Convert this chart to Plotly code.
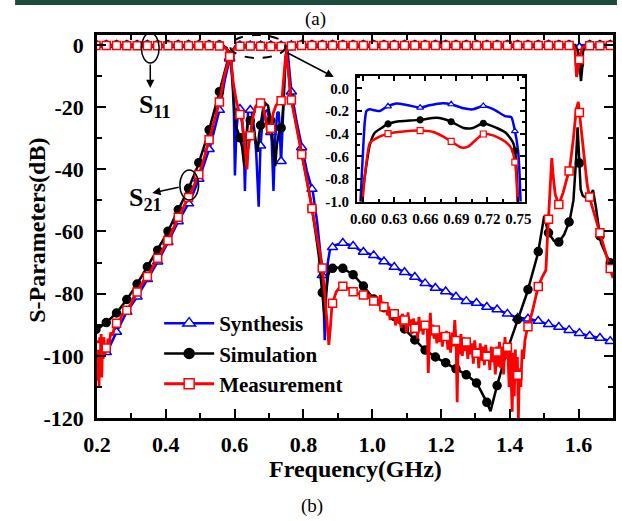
import numpy as np
import plotly.graph_objects as go

# ------------------------------------------------------------------ data
# Synthesis (blue) -------------------------------------------------------
SYN_S21_LO_F = [0.200, 0.229, 0.257, 0.286, 0.318, 0.346, 0.375, 0.404, 0.435, 0.472, 0.500, 0.530, 0.558, 0.572, 0.582, 0.588, 0.594]
SYN_S21_LO_V = [-99.5, -98.8, -92.3, -86.0, -80.8, -75.5, -70.0, -64.0, -57.0, -49.9, -42.0, -32.2, -20.0, -11.0, -6.0, -3.5, -1.8]
SYN_PB_F = [0.5974, 0.6000, 0.6016, 0.6032, 0.6064, 0.6110, 0.6160, 0.6230, 0.6320, 0.6420, 0.6550, 0.6640, 0.6770, 0.6850,
            0.6970, 0.7060, 0.7160, 0.7260, 0.7370, 0.7430, 0.7460, 0.7497, 0.7520]
SYN_PB_V = [-1.0, -0.53, -0.29, -0.20, -0.185, -0.194, -0.20, -0.161, -0.134, -0.146, -0.17, -0.149, -0.131, -0.14,
            -0.176, -0.185, -0.155, -0.185, -0.245, -0.254, -0.35, -0.56, -1.0]
SYN_S21_HI_F = [0.755, 0.760, 0.765, 0.780, 0.794, 0.810, 0.828, 0.840, 0.853, 0.858, 0.862, 0.866, 0.871, 0.877, 0.890,
                0.914, 0.943, 0.974, 1.003, 1.032, 1.063, 1.092, 1.123, 1.152, 1.184, 1.212, 1.244, 1.273, 1.304, 1.333,
                1.361, 1.393, 1.422, 1.450, 1.482, 1.510, 1.542, 1.571, 1.602, 1.631, 1.660, 1.690, 1.700]
SYN_S21_HI_V = [-3.0, -9.0, -15.0, -24.5, -32.5, -40.5, -47.6, -57.0, -70.8, -80.0, -95.0, -80.0, -70.0, -66.0, -64.5,
                -63.7, -64.6, -66.6, -67.6, -69.5, -71.4, -73.0, -74.6, -76.6, -78.2, -79.2, -81.0, -82.4, -83.0, -84.3,
                -85.0, -86.5, -87.8, -88.0, -88.8, -89.8, -90.7, -91.7, -92.7, -93.6, -94.2, -95.2, -95.6]
SYN_S11_F = [0.200, 0.550, 0.565, 0.575, 0.582, 0.588, 0.594, 0.598, 0.601, 0.605, 0.610, 0.616, 0.622, 0.627, 0.630,
             0.634, 0.639, 0.644, 0.650, 0.657, 0.663, 0.670, 0.675, 0.680, 0.688, 0.695, 0.702, 0.708, 0.713, 0.718,
             0.724, 0.728, 0.731, 0.735, 0.739, 0.744, 0.748, 0.752, 0.757, 0.765, 0.780, 1.585, 1.595, 1.600, 1.604,
             1.610, 1.620, 1.700]
SYN_S11_V = [0.0, 0.0, -0.2, -1.0, -2.5, -5.0, -12.0, -22.0, -42.0, -28.0, -22.0, -20.5, -24.0, -33.0, -47.0,
             -30.0, -22.0, -20.6, -22.0, -27.0, -35.0, -52.0, -33.0, -26.0, -21.5, -21.0, -24.5, -31.0, -47.0, -30.0,
             -22.0, -21.5, -26.0, -38.0, -26.0, -12.0, -4.0, -1.5, -0.5, -0.1, 0.0, 0.0, -0.3, -1.0, -0.6,
             -0.1, 0.0, 0.0]

# Simulation (black) -----------------------------------------------------
SIM_S21_LO_F = [0.200, 0.226, 0.257, 0.286, 0.315, 0.343, 0.375, 0.404, 0.432, 0.464, 0.493, 0.521, 0.550, 0.570, 0.580, 0.588, 0.594]
SIM_S21_LO_V = [-91.5, -89.4, -86.2, -82.0, -77.2, -72.0, -66.3, -60.5, -54.0, -46.7, -38.9, -29.3, -17.5, -9.0, -5.0, -3.0, -1.8]
SIM_PB_F = [0.5984, 0.6026, 0.6064, 0.6110, 0.6177, 0.6240, 0.6350, 0.6450, 0.6550, 0.6710, 0.6840, 0.6970, 0.7060,
            0.7160, 0.7290, 0.7380, 0.7450, 0.7470, 0.7493]
SIM_PB_V = [-1.0, -0.71, -0.5, -0.394, -0.35, -0.314, -0.29, -0.284, -0.278, -0.26, -0.29, -0.35, -0.35,
            -0.308, -0.35, -0.394, -0.484, -0.574, -1.0]
SIM_S21_HI_F = [0.752, 0.757, 0.763, 0.780, 0.794, 0.810, 0.822, 0.835, 0.845, 0.851, 0.857, 0.862, 0.866, 0.872, 0.877,
                0.890, 0.914, 0.946, 0.977, 1.006, 1.032, 1.063, 1.095, 1.123, 1.152, 1.184, 1.215, 1.244, 1.275, 1.304,
                1.333, 1.344, 1.362, 1.390, 1.420, 1.450, 1.482, 1.494, 1.500, 1.505, 1.510, 1.516, 1.528, 1.542, 1.558,
                1.574, 1.585, 1.592, 1.597, 1.601, 1.606, 1.612, 1.620, 1.631, 1.642, 1.650, 1.665, 1.680, 1.694, 1.700]
SIM_S21_HI_V = [-3.0, -9.0, -16.0, -26.0, -34.5, -43.0, -50.5, -60.0, -68.0, -75.6, -82.0, -88.0, -80.0, -74.0, -72.4,
                -71.5, -71.8, -74.0, -77.9, -82.0, -84.3, -87.2, -91.5, -94.8, -98.0, -100.4, -102.3, -104.2, -106.2, -108.8,
                -114.9, -117.8, -110.0, -99.0, -89.2, -79.8, -67.0, -58.0, -55.0, -57.0, -60.0, -61.0, -63.0, -63.5, -61.0,
                -56.5, -50.0, -38.0, -26.5, -35.0, -46.5, -48.5, -49.0, -49.2, -46.7, -52.0, -63.7, -67.5, -70.5, -72.0]
SIM_S11_F = [0.200, 0.555, 0.567, 0.577, 0.584, 0.590, 0.596, 0.603, 0.610, 0.616, 0.622, 0.628, 0.633, 0.638, 0.642,
             0.648, 0.655, 0.662, 0.667, 0.671, 0.676, 0.683, 0.690, 0.697, 0.705, 0.712, 0.718, 0.723, 0.730, 0.737,
             0.741, 0.745, 0.749, 0.754, 0.760, 0.770, 0.780, 1.590, 1.598, 1.603, 1.607, 1.610, 1.613, 1.620, 1.630, 1.700]
SIM_S11_V = [0.0, 0.0, -0.2, -1.0, -2.5, -5.0, -15.0, -26.0, -28.0, -30.0, -33.0, -39.0, -32.0, -25.5, -24.0,
             -24.5, -27.0, -31.0, -34.4, -29.0, -25.4, -20.5, -18.8, -19.5, -24.0, -31.0, -39.0, -32.0, -27.5, -26.4,
             -20.0, -10.0, -4.0, -1.5, -0.5, -0.1, 0.0, 0.0, -2.0, -7.0, -11.6, -8.0, -2.0, -0.3, 0.0, 0.0]

# Measurement (red) ------------------------------------------------------
MEA_S21_LO_F = [0.200, 0.202, 0.204, 0.206, 0.208, 0.210, 0.212, 0.214, 0.216, 0.218, 0.220, 0.223, 0.226, 0.229, 0.232,
                0.236, 0.240, 0.245, 0.250, 0.257, 0.265, 0.272, 0.283, 0.300, 0.315, 0.330, 0.346, 0.360, 0.375, 0.390,
                0.406, 0.420, 0.435, 0.450, 0.467, 0.480, 0.498, 0.510, 0.524, 0.540, 0.556, 0.570, 0.580, 0.587, 0.594]
MEA_S21_LO_V = [-97.0, -108.0, -95.0, -110.0, -94.0, -104.0, -93.0, -107.0, -95.0, -101.0, -94.0, -99.5, -97.0, -98.5, -94.5,
                -96.0, -92.5, -93.5, -91.0, -89.5, -89.0, -87.0, -86.0, -83.0, -79.8, -77.0, -74.6, -72.0, -68.9, -66.0,
                -63.0, -59.5, -55.7, -52.5, -48.9, -45.5, -41.2, -37.0, -31.2, -25.0, -18.3, -10.0, -5.5, -3.2, -1.8]
MEA_PB_F = [0.5994, 0.6032, 0.6064, 0.6129, 0.6240, 0.6386, 0.6550, 0.6676, 0.6770, 0.6850, 0.6950, 0.7014, 0.7090,
            0.7160, 0.7255, 0.7370, 0.7430, 0.7468, 0.7490]
MEA_PB_V = [-1.0, -0.65, -0.484, -0.44, -0.40, -0.38, -0.373, -0.385, -0.424, -0.469, -0.523, -0.514, -0.454,
            -0.403, -0.415, -0.469, -0.529, -0.663, -1.0]
MEA_S21_HI_F = [0.752, 0.757, 0.762, 0.780, 0.794, 0.810, 0.822, 0.835, 0.845, 0.854, 0.862, 0.868, 0.874, 0.879, 0.883,
                0.895, 0.905, 0.917, 0.930, 0.946, 0.960, 0.974,
                0.984, 0.988, 0.992, 0.996, 1.000, 1.004, 1.008, 1.012, 1.016, 1.020, 1.024, 1.028, 1.032, 1.036, 1.040,
                1.044, 1.048, 1.052, 1.056, 1.060, 1.064, 1.068, 1.072, 1.076, 1.080, 1.084, 1.088, 1.092, 1.096, 1.100,
                1.104, 1.108, 1.112, 1.116, 1.120, 1.124, 1.128, 1.132, 1.136, 1.140, 1.144, 1.148, 1.152, 1.156, 1.160,
                1.163, 1.166, 1.169, 1.172, 1.176, 1.180, 1.184, 1.188, 1.192, 1.196, 1.200, 1.204, 1.208, 1.212, 1.216,
                1.220, 1.224, 1.228, 1.232, 1.236, 1.240, 1.244, 1.247, 1.250, 1.254, 1.258, 1.262, 1.266, 1.270, 1.274,
                1.278, 1.282, 1.286, 1.290, 1.294, 1.298, 1.302, 1.306, 1.310, 1.314, 1.318, 1.322, 1.326, 1.330, 1.334,
                1.338, 1.342, 1.346, 1.350, 1.354, 1.358, 1.362, 1.366, 1.370, 1.374, 1.378, 1.382, 1.386, 1.390, 1.394,
                1.398, 1.401, 1.404, 1.407, 1.410, 1.413, 1.416, 1.419, 1.422, 1.425, 1.428, 1.432, 1.436, 1.440, 1.444,
                1.450, 1.465, 1.482, 1.495, 1.505, 1.509, 1.513, 1.518, 1.522, 1.526, 1.532, 1.542, 1.555, 1.566, 1.574,
                1.585, 1.593, 1.599, 1.605, 1.615, 1.625, 1.634, 1.650, 1.665, 1.680, 1.694, 1.700]
MEA_S21_HI_V = [-3.5, -9.0, -16.0, -26.0, -34.7, -43.5, -50.8, -59.0, -65.5, -70.8, -80.0, -90.0, -96.5, -90.0, -83.7,
                -79.5, -78.0, -77.5, -78.5, -79.5, -80.0, -80.4,
                -80.8, -81.5, -80.2, -82.3, -81.0, -82.5, -81.2, -83.6, -81.8, -84.0, -80.5, -84.8, -82.6, -85.5, -83.0,
                -87.0, -84.2, -88.5, -85.0, -87.8, -86.4, -90.2, -86.0, -89.5, -87.2, -91.0, -86.5, -89.0, -88.0, -92.5,
                -86.0, -90.5, -88.3, -93.0, -88.0, -91.2, -89.0, -94.5, -87.5, -92.0, -89.5, -93.2, -89.0, -91.5, -90.0,
                -105.5, -92.0, -86.2, -93.5, -90.0, -94.5, -91.5, -96.0, -91.0, -95.5, -92.5, -97.0, -93.0, -95.0, -92.0,
                -98.0, -93.5, -99.0, -92.5, -97.0, -88.5, -96.0, -114.9, -95.0, -99.5, -93.0, -100.0, -94.0, -98.5, -95.0,
                -101.0, -94.5, -99.5, -96.0, -102.5, -95.0, -100.0, -97.5, -104.0, -96.0, -101.5, -97.0, -103.0, -96.5, -101.0,
                -98.5, -104.5, -97.0, -102.0, -99.0, -106.0, -97.0, -103.5, -95.5, -104.0, -97.0, -106.0, -94.0, -101.0, -96.0,
                -110.0, -97.0, -107.0, -118.0, -99.0, -113.0, -98.0, -108.0, -100.4, -120.0, -104.0, -110.0, -98.0, -101.0, -95.0,
                -91.7, -86.0, -77.9, -74.5, -72.4, -63.0, -55.3, -45.0, -36.4, -42.0, -48.0, -51.5, -47.5, -43.0, -39.9,
                -30.0, -21.0, -18.3, -24.5, -36.0, -45.0, -49.9, -56.0, -61.5, -67.0, -72.7, -75.0]
MEA_S11_F = [0.200, 0.556, 0.567, 0.577, 0.584, 0.590, 0.596, 0.605, 0.612, 0.616, 0.622, 0.628, 0.633, 0.636, 0.639,
             0.645, 0.652, 0.660, 0.668, 0.676, 0.683, 0.690, 0.695, 0.700, 0.705, 0.712, 0.720, 0.727, 0.733, 0.738,
             0.743, 0.748, 0.753, 0.760, 0.770, 1.585, 1.590, 1.594, 1.598, 1.602, 1.605, 1.610, 1.620, 1.700]
MEA_S11_V = [-0.2, -0.3, -0.6, -1.4, -3.0, -5.5, -12.0, -18.0, -21.0, -22.5, -25.0, -30.0, -37.0, -40.0, -34.0,
             -29.6, -24.0, -20.0, -18.8, -18.7, -20.0, -23.5, -27.5, -28.5, -27.0, -22.0, -19.5, -18.5, -18.7, -17.0,
             -10.0, -4.0, -1.5, -0.5, -0.2, -0.2, -1.5, -10.3, -8.0, -5.0, -3.0, -1.0, -0.3, -0.2]

SERIES_NAMES = ["Synthesis", "Simulation", "Measurement"]
X_TICKS = [0.2, 0.4, 0.6, 0.8, 1.0, 1.2, 1.4, 1.6]
X_TICK_TEXT = ["0.2", "0.4", "0.6", "0.8", "1.0", "1.2", "1.4", "1.6"]
Y_TICKS = [0, -20, -40, -60, -80, -100, -120]
Y_TICK_TEXT = ["0", "-20", "-40", "-60", "-80", "-100", "-120"]
IN_X_TICKS = [0.60, 0.63, 0.66, 0.69, 0.72, 0.75]
IN_X_TEXT = ["0.60", "0.63", "0.66", "0.69", "0.72", "0.75"]
IN_Y_TICKS = [0.0, -0.2, -0.4, -0.6, -0.8, -1.0]
IN_Y_TEXT = ["0.0", "-0.2", "-0.4", "-0.6", "-0.8", "-1.0"]

# ------------------------------------------------------------------ style
FONT = "Liberation Serif, Times New Roman, serif"
W, H = 622, 521
L, R, T, B = 97, 2, 35, 103
PW, PH = W - L - R, H - T - B


def px(x):
    return (x - L) / PW


def py(y):
    return (H - B - y) / PH


MARK_GRID = np.arange(0.197, 1.701, 0.0299)   # marker placement along the curves
INSET_MARKS = [0.624, 0.655, 0.685, 0.716, 0.7465]

styles = [
    dict(color="#0000ff", symbol="triangle-up", size=9, fill="white", lw=2.5),
    dict(color="#000000", symbol="circle", size=8, fill="#000000", lw=2.5),
    dict(color="#ff0000", symbol="square", size=8, fill="white", lw=2.8),
]
data = [
    (SYN_S21_LO_F + SYN_PB_F + SYN_S21_HI_F, SYN_S21_LO_V + SYN_PB_V + SYN_S21_HI_V, SYN_S11_F, SYN_S11_V),
    (SIM_S21_LO_F + SIM_PB_F + SIM_S21_HI_F, SIM_S21_LO_V + SIM_PB_V + SIM_S21_HI_V, SIM_S11_F, SIM_S11_V),
    (MEA_S21_LO_F + MEA_PB_F + MEA_S21_HI_F, MEA_S21_LO_V + MEA_PB_V + MEA_S21_HI_V, MEA_S11_F, MEA_S11_V),
]

fig = go.Figure()
for name, st, (f21, v21, f11, v11) in zip(SERIES_NAMES, styles, data):
    mk = dict(symbol=st["symbol"], size=st["size"], color=st["fill"], line=dict(color=st["color"], width=1.5))
    ln = dict(color=st["color"], width=st["lw"])
    fig.add_trace(go.Scatter(x=f21, y=v21, mode="lines", line=ln, showlegend=False, hoverinfo="skip"))
    fig.add_trace(go.Scatter(x=f11, y=v11, mode="lines", line=ln, showlegend=False, hoverinfo="skip"))
    fig.add_trace(go.Scatter(x=MARK_GRID, y=np.interp(MARK_GRID, f21, v21), mode="markers", marker=mk,
                             showlegend=False, hoverinfo="skip", cliponaxis=True))
    fig.add_trace(go.Scatter(x=MARK_GRID, y=np.interp(MARK_GRID, f11, v11), mode="markers", marker=mk,
                             showlegend=False, hoverinfo="skip", cliponaxis=True))
    # legend entry
    fig.add_trace(go.Scatter(x=[None], y=[None], mode="lines+markers", name=name, line=ln,
                             marker=dict(symbol=st["symbol"], size=st["size"] + 2, color=st["fill"],
                                         line=dict(color=st["color"], width=1.5))))
    # inset
    fig.add_trace(go.Scatter(x=f21, y=v21, mode="lines", line=dict(color=st["color"], width=2.5, shape="spline",
                                                                    smoothing=0.6),
                             xaxis="x2", yaxis="y2", showlegend=False, hoverinfo="skip"))
    fig.add_trace(go.Scatter(x=INSET_MARKS, y=np.interp(INSET_MARKS, f21, v21), mode="markers",
                             marker=dict(symbol=st["symbol"], size=6, color=st["fill"],
                                         line=dict(color=st["color"], width=1.2)),
                             xaxis="x2", yaxis="y2", showlegend=False, hoverinfo="skip"))

tick_font = dict(family=FONT, size=22, color="black", weight="bold")
in_font = dict(family=FONT, size=15, color="black", weight="bold")
axis_common = dict(showline=True, linewidth=2.5, linecolor="black", mirror="allticks", ticks="inside",
                   tickwidth=2, tickcolor="black", showgrid=False, zeroline=False)

shapes = [
    # top banner strip
    dict(type="rect", xref="paper", yref="paper", x0=px(14), x1=px(624), y0=py(5), y1=py(-2),
         fillcolor="#1e4a3a", line=dict(width=0), layer="above"),
    # S11 ellipse
    dict(type="circle", xref="paper", yref="paper", x0=px(142), x1=px(160), y0=py(63), y1=py(33),
         line=dict(color="black", width=1.5)),
    # S21 ellipse
    dict(type="circle", xref="paper", yref="paper", x0=px(181), x1=px(200), y0=py(200), y1=py(170),
         line=dict(color="black", width=1.5)),
    # dashed ellipse around passband
    dict(type="circle", xref="paper", yref="paper", x0=px(232), x1=px(288), y0=py(58), y1=py(35),
         line=dict(color="black", width=2, dash="dash")),
]

arrow = dict(showarrow=True, arrowhead=2, arrowsize=1.1, arrowwidth=1.5, arrowcolor="black", text="",
             xref="paper", yref="paper")
txt = dict(xref="paper", yref="paper", showarrow=False, xanchor="center", yanchor="middle")
annotations = [
    dict(arrow, x=px(151), y=py(88), ax=0, ay=-25),
    dict(arrow, x=px(153), y=py(193), ax=28, ay=-6),
    dict(arrow, x=px(337), y=py(77), ax=-48, ay=-25),
    dict(txt, text="S<sub>11</sub>", x=px(156), y=py(106),
         font=dict(family=FONT, size=26, color="black", weight="bold")),
    dict(txt, text="S<sub>21</sub>", x=px(146), y=py(199),
         font=dict(family=FONT, size=26, color="black", weight="bold")),
    dict(txt, text="(a)", x=px(318), y=py(19), font=dict(family=FONT, size=19, color="black")),
    dict(txt, text="(b)", x=px(315), y=py(506), font=dict(family=FONT, size=19, color="black")),
    dict(txt, text="Frequency(GHz)", x=px(359), y=py(469),
         font=dict(family=FONT, size=24, color="black", weight="bold")),
    dict(txt, text="S-Parameters(dB)", x=px(36), y=py(230), textangle=-90,
         font=dict(family=FONT, size=24, color="black", weight="bold")),
]

fig.update_layout(
    width=W, height=H, margin=dict(l=L, r=R, t=T, b=B, pad=0),
    paper_bgcolor="white", plot_bgcolor="white",
    font=dict(family=FONT),
    xaxis=dict(axis_common, range=[0.2, 1.7], tickvals=X_TICKS, ticktext=X_TICK_TEXT, ticklen=9,
               tickfont=tick_font, ticklabelstandoff=5,
               minor=dict(tickvals=[0.3, 0.5, 0.7, 0.9, 1.1, 1.3, 1.5, 1.7], ticks="inside", ticklen=5,
                          tickwidth=2, tickcolor="black")),
    yaxis=dict(axis_common, range=[-120, 3.2], tickvals=Y_TICKS, ticktext=Y_TICK_TEXT, ticklen=9,
               tickfont=tick_font, ticklabelstandoff=6,
               minor=dict(tickvals=[-10, -30, -50, -70, -90, -110], ticks="inside", ticklen=5,
                          tickwidth=2, tickcolor="black")),
    xaxis2=dict(axis_common, domain=[px(360.5), px(530.5)], anchor="y2", range=[0.594, 0.756],
                tickvals=IN_X_TICKS, ticktext=IN_X_TEXT, ticklen=5, linewidth=2, tickfont=in_font,
                ticklabelstandoff=2,
                minor=dict(dtick=0.015, tick0=0.6, ticks="inside", ticklen=3, tickwidth=1.5, tickcolor="black")),
    yaxis2=dict(axis_common, domain=[py(201.5), py(76)], anchor="x2", range=[-1.0, 0.11],
                tickvals=IN_Y_TICKS, ticktext=IN_Y_TEXT, ticklen=5, linewidth=2, tickfont=in_font,
                ticklabelstandoff=3,
                minor=dict(dtick=0.1, tick0=0, ticks="inside", ticklen=3, tickwidth=1.5, tickcolor="black")),
    legend=dict(x=px(160), y=py(303), xanchor="left", yanchor="top", bgcolor="rgba(0,0,0,0)",
                font=dict(family=FONT, size=21, color="black", weight="bold"), itemwidth=50,
                tracegroupgap=0),
    shapes=shapes,
    annotations=annotations,
)

fig.write_html("out.html")
